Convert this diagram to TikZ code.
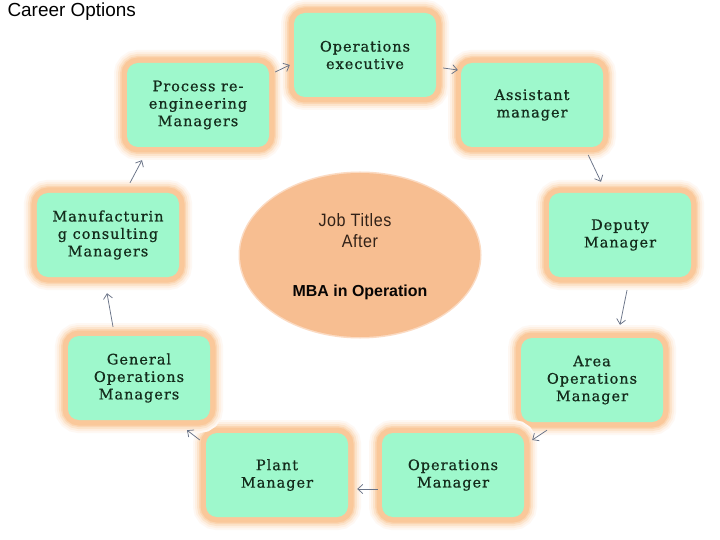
\documentclass[tikz,border=0pt]{standalone}
\usepackage{fontspec}
\setmainfont{Liberation Serif}
\newfontfamily\boxfont[LetterSpace=7,FakeBold=0.8]{DejaVu Serif}
\newfontfamily\titlefont{Liberation Sans}
\newfontfamily\ellfont[LetterSpace=3,FakeStretch=0.9]{Liberation Sans}
\usetikzlibrary{arrows.meta,calc,shapes.geometric}
\definecolor{mint}{RGB}{158,248,204}
\definecolor{haloin}{RGB}{250,200,154}
\definecolor{boxtext}{RGB}{20,44,28}
\definecolor{peach}{RGB}{247,190,145}
\definecolor{elltext}{RGB}{50,34,24}
\definecolor{arrowc}{RGB}{105,115,135}
\tikzset{
  jobbox/.style={rounded corners=11bp, fill=mint, minimum width=142bp, minimum height=84bp,
    inner sep=2bp, align=center, text=boxtext,
    font=\boxfont\fontsize{14.5}{17.5}\selectfont,
    preaction={draw=haloin!12, line width=26bp},
    preaction={draw=haloin!28, line width=22bp},
    preaction={draw=haloin!50, line width=18bp},
    preaction={draw=haloin!75, line width=14bp},
    preaction={draw=haloin, line width=11bp},
    path picture={
      \fill[white,opacity=.55] ([shift={(-10bp,7bp)}]path picture bounding box.north east) ellipse [x radius=4bp, y radius=2.5bp];
      \fill[white,opacity=.55] ([shift={(10bp,-7bp)}]path picture bounding box.south west) ellipse [x radius=4bp, y radius=2.5bp];
    }},
  arr/.style={draw=arrowc, line width=0.75bp, -{Straight Barb[length=5bp,width=9bp]}},
  elltxt/.style={text=elltext, font=\ellfont\fontsize{18}{21}\selectfont, anchor=base}
}
\begin{document}
\begin{tikzpicture}[x=1bp,y=-1bp]
\useasboundingbox[fill=white] (0,0) rectangle (720,540);
\node[anchor=base west, font=\titlefont\fontsize{19}{22}\selectfont] (title) at (4,17) {Career Options};

\node[ellipse, fill=peach, minimum width=240bp, minimum height=164bp,
  preaction={draw=peach!55, line width=3bp}] (center) at (360,255) {};
\node[elltxt] (t1) at (355,227) {Job Titles};
\node[elltxt] (t2) at (360,248) {After};
\node[elltxt, text=black!85!elltext, font=\titlefont\bfseries\fontsize{16}{19}\selectfont] (t3) at (360,296) {MBA in Operation};

\node[jobbox] (proc) at (198,105) {Process re-\\engineering\\Managers};
\node[jobbox] (opsx) at (365,55) {Operations\\executive};
\node[jobbox] (asst) at (532,105) {Assistant\\manager};
\node[jobbox] (dep) at (620,235) {Deputy\\Manager};
\node[jobbox] (area) at (592,380) {Area\\Operations\\Manager};
\node[jobbox] (opsm) at (453,475) {Operations\\Manager};
\node[jobbox] (plant) at (277,475) {Plant\\Manager};
\node[jobbox] (gen) at (139,378) {General\\Operations\\Managers};
\node[jobbox] (manu) at (108,235) {Manufacturin\\g consulting\\Managers};

\draw[arr] ($(proc.east)+(6,-33)$) -- ($(opsx.west)+(-4,10)$);
\draw[arr] ($(opsx.east)+(7,13)$) -- ($(asst.west)+(-3,-35)$);
\draw[arr] ($(asst.east)+(-15,50)$) -- ($(dep.north)+(-19,-11)$);
\draw[arr] ($(dep.south)+(7,13)$) -- ($(area.north)+(28,-13)$);
\draw[arr] ($(area.south)+(-45,8)$) -- ($(opsm.east)+(8,-35)$);
\draw[arr] ($(opsm.west)+(-4,14)$) -- ($(plant.east)+(9,14)$);
\draw[arr] ($(plant.west)+(-6,-35)$) -- ($(gen.south)+(48,10)$);
\draw[arr] ($(gen.north)+(-26,-9)$) -- ($(manu.south)+(-1,16)$);
\draw[arr] ($(manu.north)+(22,-10)$) -- ($(proc.south)+(-56,13)$);
\end{tikzpicture}
\end{document}
